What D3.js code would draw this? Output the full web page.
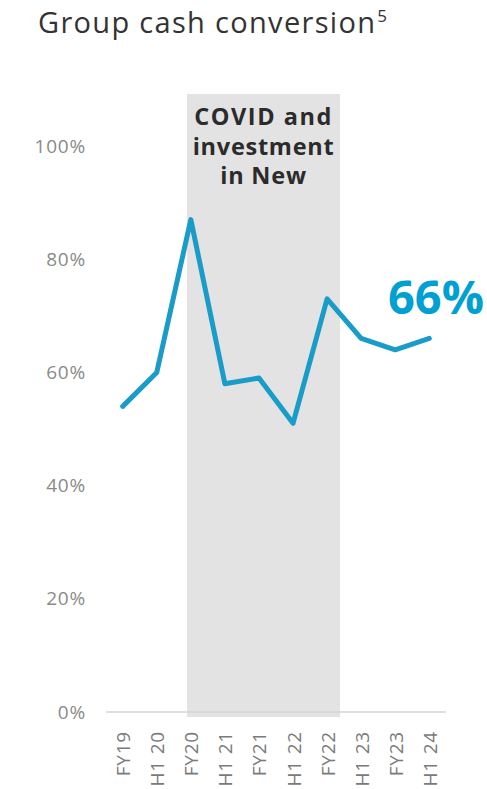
<!DOCTYPE html>
<html>
<head>
<meta charset="utf-8">
<script src="https://cdn.jsdelivr.net/npm/d3@7"></script>
<style>
  html, body { margin: 0; padding: 0; background: #fff; }
  svg { display: block; }
</style>
</head>
<body>
<svg id="chart" width="487" height="789"></svg>
<script>
// Group cash conversion by reporting period (%)
const periods = ["FY19", "H1 20", "FY20", "H1 21", "FY21", "H1 22", "FY22", "H1 23", "FY23", "H1 24"];
const conversion = [54, 60, 87, 58, 59, 51, 73, 66, 64, 66];
const yTicks = [0, 20, 40, 60, 80, 100];
const highlightLabel = "66%";
const shadeLines = ["COVID and", "investment", "in New"];
// Shaded period, in category-index units (FY20 .. FY22 window)
const shadeFrom = 1.89, shadeTo = 6.38;

const svg = d3.select("#chart");
const font = "'Open Sans', 'Noto Sans', sans-serif";

// spread a text's letters so that it spans the wanted width
function spreadTo(sel, width) {
  const n = sel.text().length;
  const w = sel.node().getComputedTextLength();
  sel.attr("letter-spacing", Math.max(0, (width - w) / Math.max(1, n - 1)));
}

const x = d3.scaleLinear().domain([0, periods.length - 1]).range([122.7, 429.3]);
const y = d3.scaleLinear().domain([0, 100]).range([712, 146]);

// shaded background band
svg.append("rect")
  .attr("x", x(shadeFrom))
  .attr("y", 94)
  .attr("width", x(shadeTo) - x(shadeFrom))
  .attr("height", 717 - 94)
  .attr("fill", "#e3e3e3");

// band annotation
const cx = (x(shadeFrom) + x(shadeTo)) / 2;
const annWidths = [137, 141, 86];
shadeLines.forEach((t, i) => {
  const tx = svg.append("text")
    .attr("x", cx)
    .attr("y", 125 + i * 29.5)
    .attr("text-anchor", "middle")
    .attr("font-family", font)
    .attr("font-weight", 700)
    .attr("font-size", 23.5)
    .attr("fill", "#2b2b2b")
    .text(t);
  spreadTo(tx, annWidths[i]);
});

// baseline
svg.append("line")
  .attr("x1", 106).attr("x2", 446)
  .attr("y1", y(0)).attr("y2", y(0))
  .attr("stroke", "#d4d4d4")
  .attr("stroke-width", 1.5);

// y axis labels
const yAxis = d3.axisLeft(y).tickValues(yTicks).tickFormat(d => d + "%").tickSize(0).tickPadding(0);
const yg = svg.append("g").attr("transform", "translate(86,0)").call(yAxis);
yg.select(".domain").remove();
yg.selectAll("text")
  .attr("font-family", font)
  .attr("font-size", 19)
  .attr("font-weight", 400)
  .attr("letter-spacing", 0.8)
  .attr("fill", "#8a8a8a");

// x axis labels (rotated)
const xAxis = d3.axisBottom(x).tickValues(d3.range(periods.length)).tickFormat(i => periods[i]).tickSize(0).tickPadding(0);
const xg = svg.append("g").attr("transform", "translate(0,731)").call(xAxis);
xg.select(".domain").remove();
xg.selectAll("text")
  .attr("font-family", font)
  .attr("font-size", 19)
  .attr("letter-spacing", 0.8)
  .attr("fill", "#7a7a7a")
  .attr("text-anchor", "end")
  .attr("dominant-baseline", "central")
  .attr("transform", "rotate(-90)")
  .attr("x", 0).attr("y", 0).attr("dy", null);

// series line
const line = d3.line().x((d, i) => x(i)).y(d => y(d));
svg.append("path")
  .datum(conversion)
  .attr("d", line)
  .attr("fill", "none")
  .attr("stroke", "#1a9cc9")
  .attr("stroke-width", 5)
  .attr("stroke-linejoin", "round")
  .attr("stroke-linecap", "round");

// latest value callout
const big = svg.append("text")
  .attr("x", 388)
  .attr("y", 314)
  .attr("font-family", font)
  .attr("font-weight", 700)
  .attr("font-size", 42)
  .attr("fill", "#00a0d3")
  .text(highlightLabel);
const bw = big.node().getComputedTextLength();
big.attr("font-size", 42 * Math.min(1.15, 96 / bw));

// title
const title = svg.append("text")
  .attr("x", 38)
  .attr("y", 33)
  .attr("font-family", font)
  .attr("font-weight", 400)
  .attr("font-size", 29)
  .attr("fill", "#333");
const main = title.append("tspan").text("Group cash conversion");
spreadTo(main, 337);
title.append("tspan")
  .attr("font-size", 17)
  .attr("letter-spacing", 0)
  .attr("dx", 1)
  .attr("dy", -11)
  .text("5");
</script>
</body>
</html>
